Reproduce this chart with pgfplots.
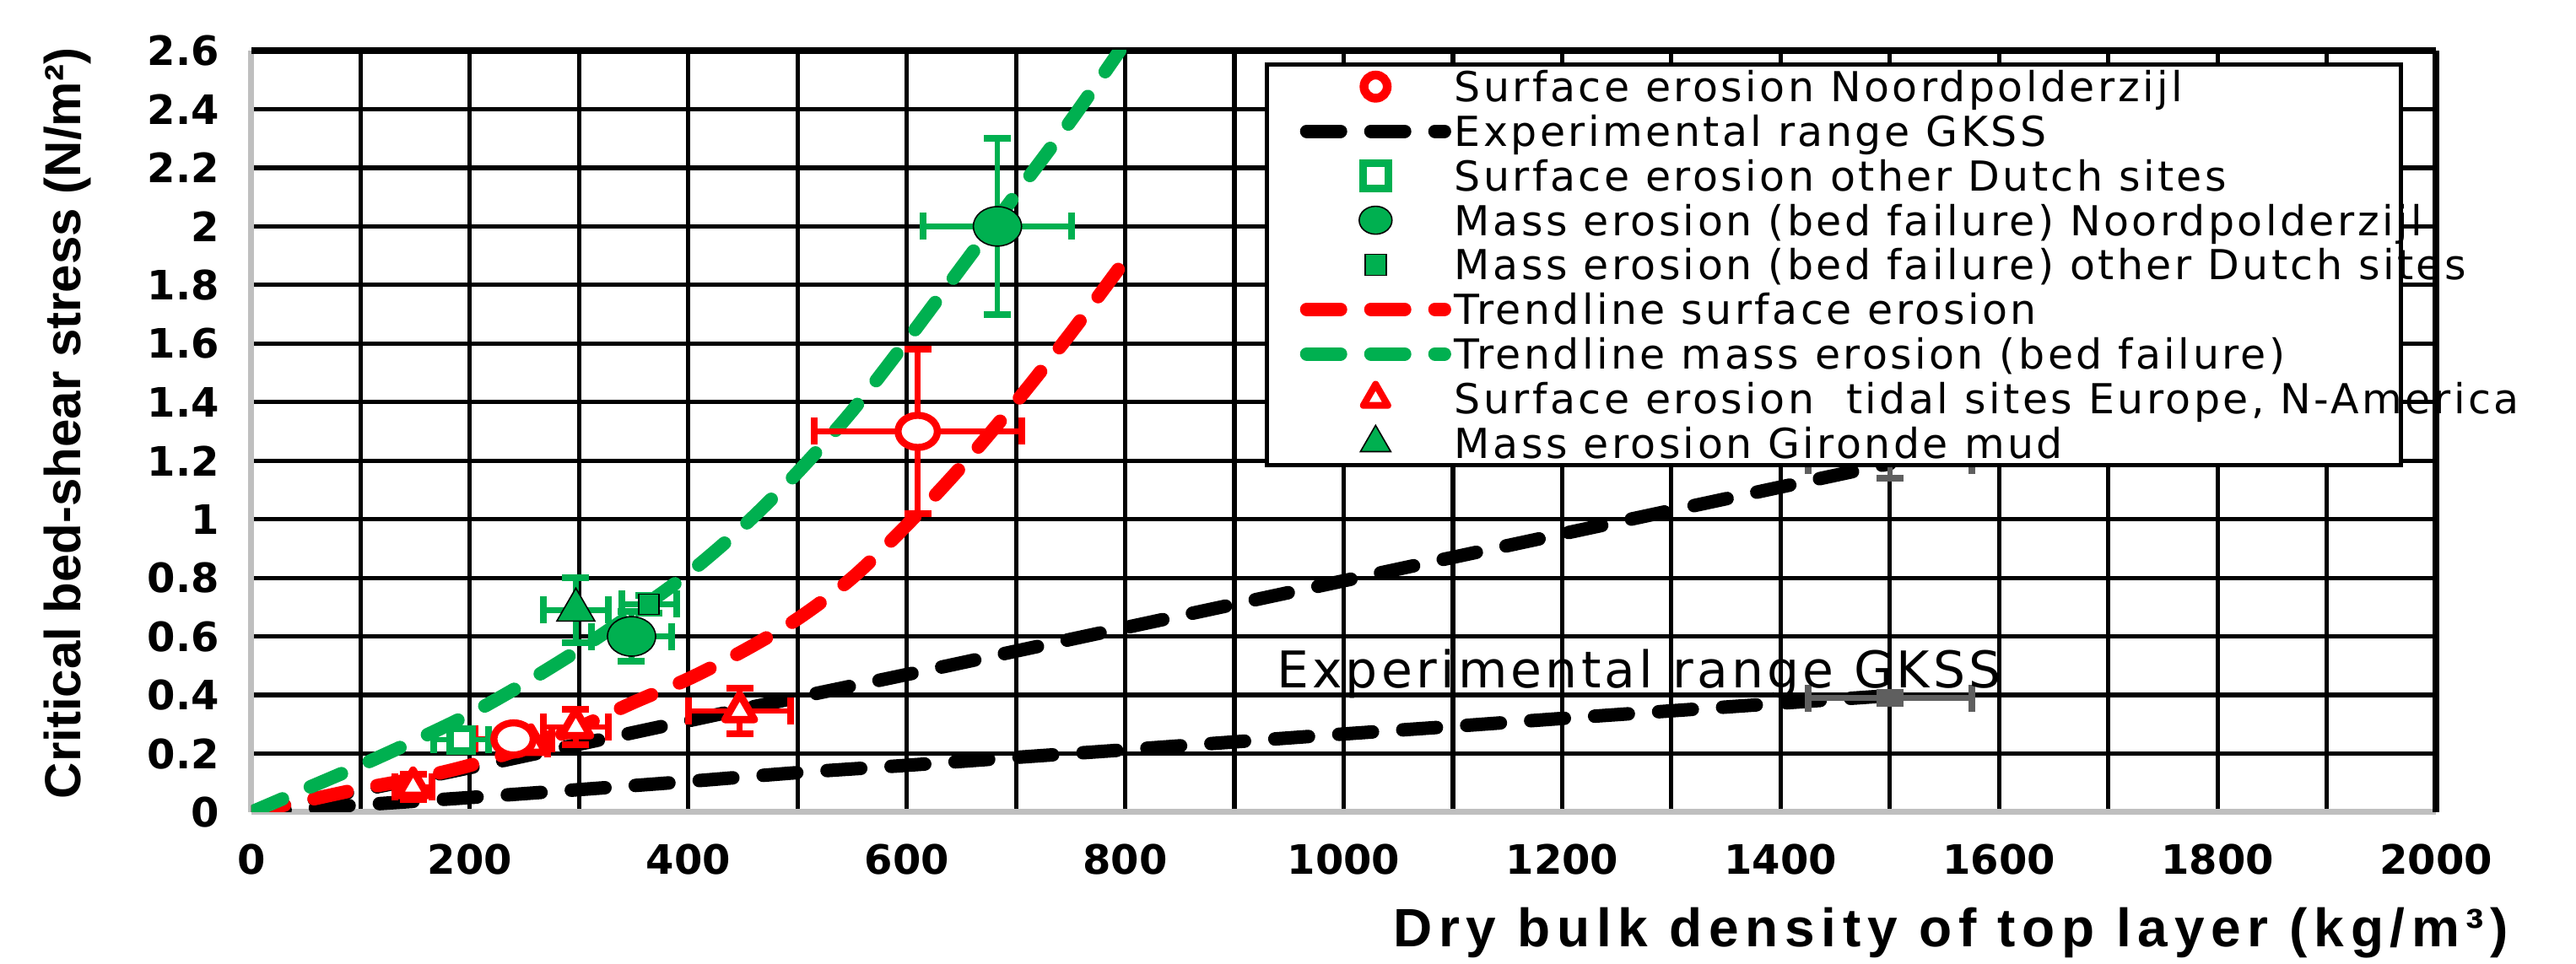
\documentclass[border=0pt]{standalone}
\usepackage{fontspec}
\setmainfont{DejaVu Sans}
\newfontfamily\legfont[LetterSpace=7]{DejaVu Sans}
\newfontfamily\tickfont{DejaVu Sans}
\newfontfamily\labfont{Liberation Sans}
\newfontfamily\xlabfont[LetterSpace=12]{Liberation Sans}
\usepackage{pgfplots}
\pgfplotsset{compat=1.18}
\usepackage{pgfplotstable}

\definecolor{xred}{HTML}{FF0000}
\definecolor{xgreen}{HTML}{00B050}
\definecolor{xgray}{HTML}{5F5F5F}
\definecolor{axgray}{HTML}{BFBFBF}

% trend lines and GKSS range
\pgfplotstableread{
x y
0 0
100 0.075
200 0.152
300 0.232
400 0.312
500 0.392
600 0.470
700 0.550
800 0.630
900 0.710
1000 0.790
1100 0.870
1200 0.950
1300 1.030
1400 1.110
1500 1.190
}\gkssup
\pgfplotstableread{
x y
0 0
100 0.025
200 0.050
300 0.077
400 0.105
500 0.135
600 0.160
700 0.187
800 0.213
900 0.240
1000 0.267
1100 0.293
1200 0.320
1300 0.346
1400 0.372
1500 0.398
}\gksslo
\pgfplotstableread{
x y
0 0
50 0.04
100 0.08
150 0.115
200 0.16
250 0.22
300 0.29
350 0.375
400 0.455
450 0.55
500 0.66
550 0.80
600 0.98
650 1.18
700 1.40
750 1.635
797 1.87
}\trendsurf
\pgfplotstableread{
x y
0 0
50 0.08
100 0.16
150 0.245
200 0.335
250 0.44
300 0.555
350 0.68
400 0.815
450 0.975
500 1.16
550 1.37
600 1.61
650 1.86
700 2.11
750 2.36
795 2.6
}\trendmass

% measured points with error bars
\pgfplotstableread{
x y ex ey
610 1.30 95 0.28
240 0.25 35 0.02
}\surfnoord
\pgfplotstableread{
x y ex ey
192 0.247 25 0.01
}\surfdutch
\pgfplotstableread{
x y ex ey
683 2.00 68 0.30
348 0.60 37 0.085
}\massnoord
\pgfplotstableread{
x y ex ey
364 0.71 25 0.03
}\massdutch
\pgfplotstableread{
x y ex ey
148 0.086 17 0.043
256 0.233 15 0.02
297 0.29 30 0.06
447 0.345 47 0.078
}\surftidal
\pgfplotstableread{
x y ex ey
297 0.69 30 0.11
}\gironde
\pgfplotstableread{
x y ex ey
1500 1.20 75 0.06
1500 0.39 75 0.02
}\gksserr

\pgfplotsset{
  legmark/.style={legend image code/.code={\draw[mark repeat=2,mark phase=2,##1] plot coordinates {(0pt,0pt) (20.4pt,0pt) (40.8pt,0pt)};}},
  legline/.style={legend image code/.code={\draw[##1] (0pt,0pt) -- (40.8pt,0pt);}},
  dashline/.style={line width=4pt, line cap=round, dash pattern=on 10pt off 9pt},
  ebars/.style={error bars/.cd, x dir=both, x explicit, y dir=both, y explicit,
    error bar style={line width=1.6pt, #1},
    error mark options={rotate=90, mark size=4pt, line width=2pt, #1}},
}

\begin{document}
\begin{tikzpicture}
\begin{axis}[
  scale only axis, width=647.25pt, height=225.75pt,
  xmin=0, xmax=2000, ymin=0, ymax=2.6,
  xtick={0,200,400,600,800,1000,1200,1400,1600,1800,2000},
  minor xtick={100,300,500,700,900,1100,1300,1500,1700,1900},
  ytick={0,0.2,0.4,0.6,0.8,1,1.2,1.4,1.6,1.8,2,2.2,2.4,2.6},
  extra x ticks={2000}, extra x tick labels={},
  extra y ticks={2.6}, extra y tick labels={},
  extra tick style={grid style={black, line width=2pt}},
  xmajorgrids, xminorgrids, ymajorgrids,
  grid style={black, line width=1.3pt},
  minor grid style={black, line width=1.3pt},
  major tick length=0pt, minor tick length=0pt,
  axis x line*=bottom, axis y line*=left,
  axis line style={axgray, line width=1.75pt, -},
  /pgf/number format/assume math mode=true,
  /pgf/number format/1000 sep={},
  tick label style={font=\tickfont\bfseries\fontsize{12}{12}\selectfont},
  yticklabel style={xshift=-6pt},
  xticklabel style={yshift=-6pt},
  xlabel={\xlabfont\bfseries\fontsize{16}{16}\selectfont Dry bulk density of top layer (kg/m³)},
  ylabel={\labfont\bfseries\fontsize{15}{15}\selectfont Critical bed-shear stress (N/m²)},
  xlabel style={at={(axis description cs:0.778,-0.158)}, anchor=center},
  ylabel style={at={(axis description cs:-0.0842,0.5105)}, anchor=center},
  legend style={at={(axis cs:960,2.553)}, anchor=north west, draw=none, fill=none,
    inner sep=0pt, outer sep=0pt, row sep=0pt, column sep=1pt,
    font=\legfont\fontsize{12.25}{13.2}\selectfont,
    nodes={inner sep=0pt, text height=11.1pt, text depth=2.1pt}},
  legend cell align=left,
]
\coordinate (sw) at (rel axis cs:0,0);
\coordinate (ne) at (rel axis cs:1,1);

% GKSS range
\addplot[forget plot, black, dashline, smooth] table[x=x,y=y] {\gkssup};
\addplot[forget plot, black, dashline, smooth] table[x=x,y=y] {\gksslo};
\addplot[forget plot, draw=none, no marks, ebars=xgray] table[x=x,y=y,x error=ex,y error=ey] {\gksserr};

% trend lines
\addplot[forget plot, xred, dashline, smooth] table[x=x,y=y] {\trendsurf};
\addplot[forget plot, xgreen, dashline, smooth] table[x=x,y=y] {\trendmass};

% data points
\addplot[forget plot, only marks, mark=triangle*, mark size=5pt,
  mark options={fill=white, draw=xred, line width=2.2pt, line join=round}, ebars=xred]
  table[x=x,y=y,x error=ex,y error=ey] {\surftidal};
\addplot[forget plot, only marks, mark=*, mark size=5.3pt,
  mark options={fill=white, draw=xred, line width=2.1pt, xscale=1.1, yscale=0.9}, ebars=xred]
  table[x=x,y=y,x error=ex,y error=ey] {\surfnoord};
\addplot[forget plot, only marks, mark=square*, mark size=3.3pt,
  mark options={fill=white, draw=xgreen, line width=2.1pt}, ebars=xgreen]
  table[x=x,y=y,x error=ex,y error=ey] {\surfdutch};
\addplot[forget plot, only marks, mark=square*, mark size=3pt,
  mark options={fill=xgreen, draw=none}, ebars=xgreen]
  table[x=x,y=y,x error=ex,y error=ey] {\massdutch};
\addplot[forget plot, only marks, mark=triangle*, mark size=6.5pt,
  mark options={fill=xgreen, draw=none}, ebars=xgreen]
  table[x=x,y=y,x error=ex,y error=ey] {\gironde};
\addplot[forget plot, only marks, mark=*, mark size=6.5pt,
  mark options={fill=xgreen, draw=none, xscale=1.1, yscale=0.9}, ebars=xgreen]
  table[x=x,y=y,x error=ex,y error=ey] {\massnoord};

\node[anchor=base west, inner sep=0pt, font=\legfont\fontsize{15}{15}\selectfont]
  at (axis cs:938,0.426) {Experimental range GKSS};

% legend frame
\draw[black, line width=1.25pt, fill=white] (axis cs:930,1.186) rectangle (axis cs:1967.6,2.553);

\addlegendimage{only marks, mark=*, mark size=3.44pt, mark options={fill=white, draw=xred, line width=2.6pt}, legmark}
\addlegendentry{Surface erosion Noordpolderzijl}
\addlegendimage{black, dashline, legline}
\addlegendentry{Experimental range GKSS}
\addlegendimage{only marks, mark=square*, mark size=3.75pt, mark options={fill=white, draw=xgreen, line width=2.25pt}, legmark}
\addlegendentry{Surface erosion other Dutch sites}
\addlegendimage{only marks, mark=*, mark size=4.5pt, mark options={fill=xgreen, draw=none, xscale=1.08, yscale=0.92}, legmark}
\addlegendentry{Mass erosion (bed failure) Noordpolderzijl}
\addlegendimage{only marks, mark=square*, mark size=3.1pt, mark options={fill=xgreen, draw=none}, legmark}
\addlegendentry{Mass erosion (bed failure) other Dutch sites}
\addlegendimage{xred, dashline, legline}
\addlegendentry{Trendline surface erosion}
\addlegendimage{xgreen, dashline, legline}
\addlegendentry{Trendline mass erosion (bed failure)}
\addlegendimage{only marks, mark=triangle*, mark size=4.2pt, mark options={fill=white, draw=xred, line width=2pt, line join=round}, legmark}
\addlegendentry{Surface erosion\ \ tidal sites Europe, N-America}
\addlegendimage{only marks, mark=triangle*, mark size=5.2pt, mark options={fill=xgreen, draw=none}, legmark}
\addlegendentry{Mass erosion Gironde mud}
\end{axis}
\pgfresetboundingbox
\path ([shift={(-74.5pt,-45pt)}]sw) rectangle ([shift={(41.5pt,15pt)}]ne);
\end{tikzpicture}
\end{document}
